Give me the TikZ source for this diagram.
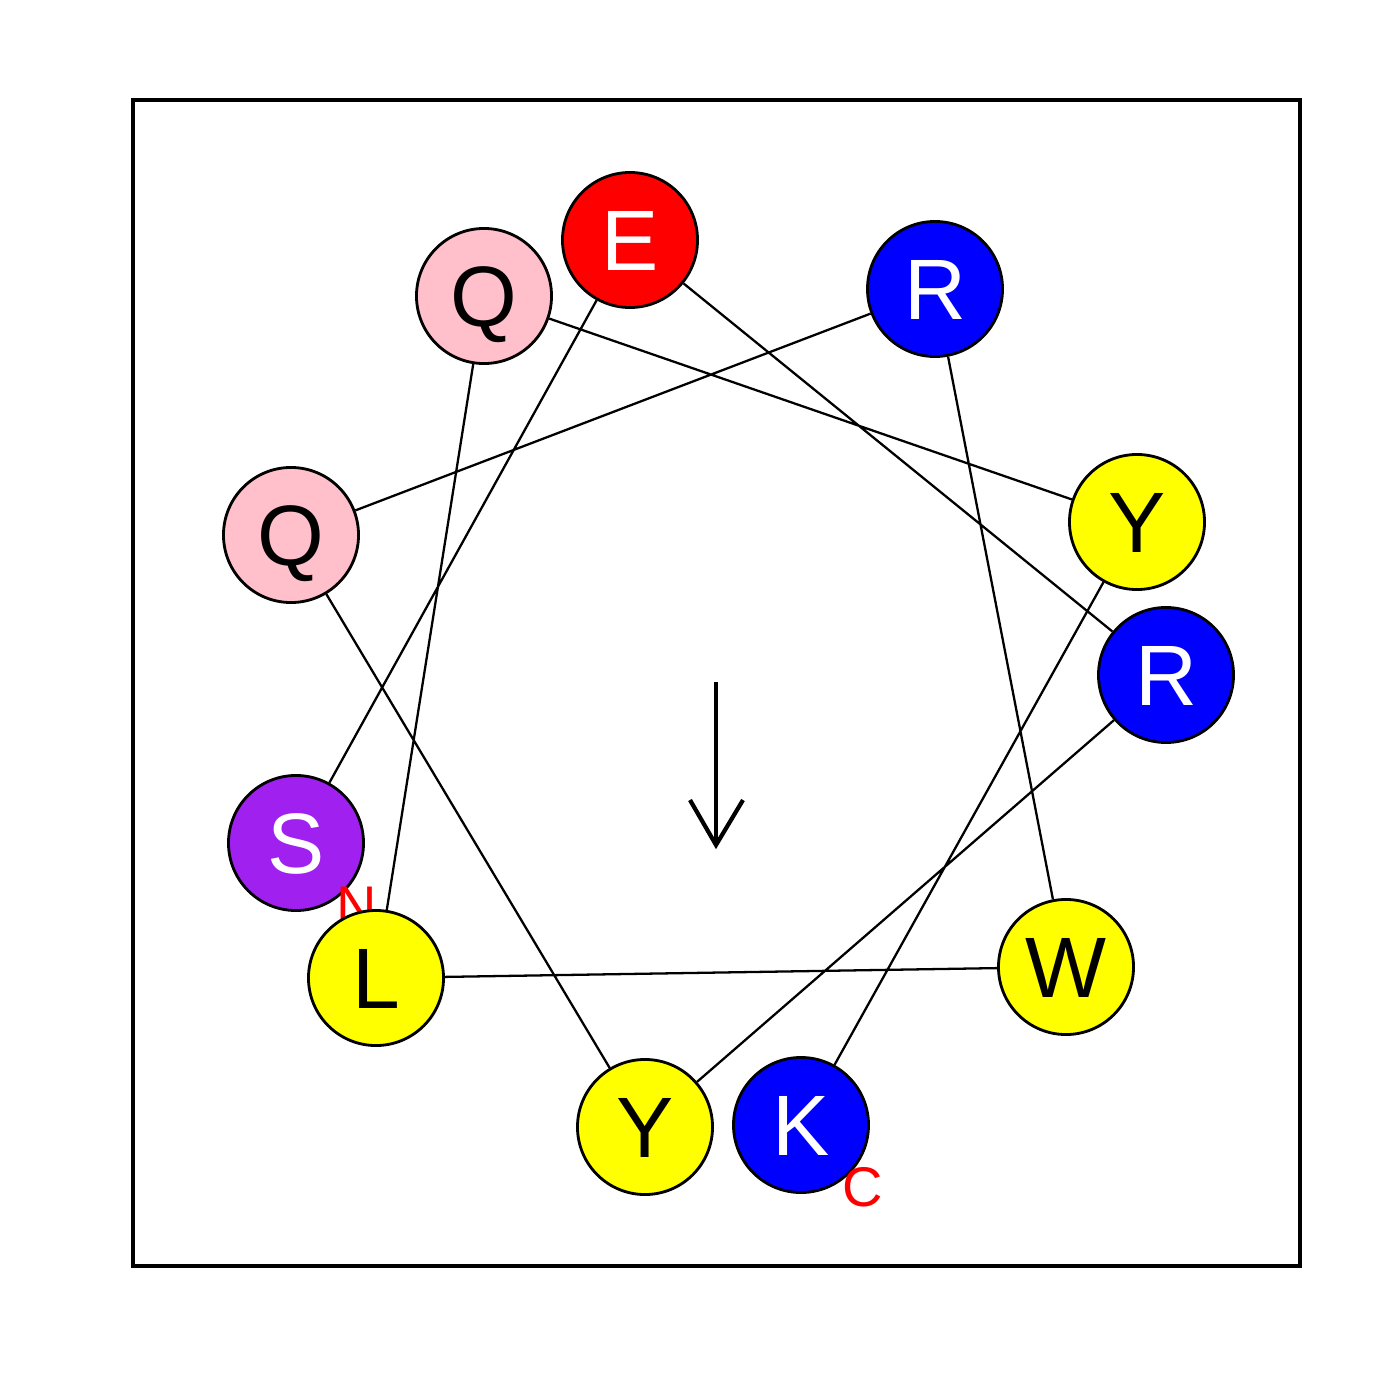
\documentclass[tikz,border=0pt]{standalone}
\usepackage{fontspec}
\setmainfont{Liberation Sans}
\usetikzlibrary{backgrounds}
\definecolor{rpink}{RGB}{255,192,203}
\definecolor{rpurple}{RGB}{160,32,240}
\definecolor{rblue}{RGB}{0,0,255}
\definecolor{rred}{RGB}{255,0,0}
\definecolor{ryellow}{RGB}{255,255,0}
\tikzset{
  res/.style={circle, draw=black, line width=0.8pt, minimum size=135*0.2845pt,
    inner sep=0pt, text height=17.3pt, text depth=0pt,
    font=\fontsize{24.4}{29}\selectfont},
  wlet/.style={res, text=white},
  blet/.style={res, text=black},
  term/.style={text=rred, inner sep=0pt, text height=11.4pt, text depth=0pt,
    font=\fontsize{15.9}{19}\selectfont},
  link/.style={line width=0.65pt, draw=black},
}
\begin{document}
\begin{tikzpicture}[x=0.01cm, y=-0.01cm]
\useasboundingbox (0,0) rectangle (1400,1400);
\draw[line width=1pt] (133,100) rectangle (1300,1266);
% residues in sequence order
\node[wlet, fill=rpurple] (S)  at (296,843)  {S};
\node[term] (Nlab) at (357,905) {N};
\node[wlet, fill=rred]    (E)  at (630,240)  {E};
\node[wlet, fill=rblue]   (R1) at (1166,675) {R};
\node[blet, fill=ryellow] (Y1) at (645,1127) {Y};
\node[blet, fill=rpink]   (Q1) at (291,535)  {Q};
\node[wlet, fill=rblue]   (R2) at (935,289)  {R};
\node[blet, fill=ryellow] (W)  at (1066,967) {W};
\node[blet, fill=ryellow] (L)  at (376,978)  {L};
\node[blet, fill=rpink]   (Q2) at (484,296)  {Q};
\node[blet, fill=ryellow] (Y2) at (1137,522) {Y};
\node[wlet, fill=rblue]   (K)  at (801,1125) {K};
\node[term] (Clab) at (863,1186) {C};
\begin{scope}[on background layer]
\draw[link] (S) -- (E) -- (R1) -- (Y1) -- (Q1) -- (R2) -- (W) -- (L) -- (Q2) -- (Y2) -- (K);
\end{scope}
% moment arrow
\coordinate (a0) at (716,682);
\coordinate (a1) at (716,845);
\coordinate (al) at (690,800);
\coordinate (ar) at (743,800);
\draw[line width=1.2pt] (a0) -- (a1);
\draw[line width=1.2pt] (al) -- (a1) -- (ar);
\end{tikzpicture}
\end{document}
